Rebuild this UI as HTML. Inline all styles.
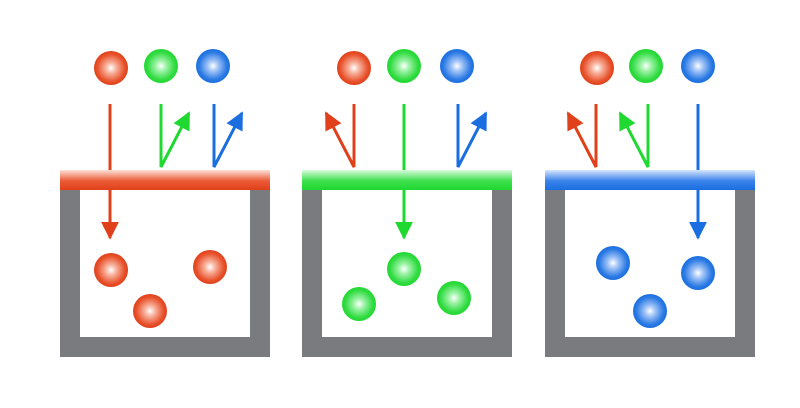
<!DOCTYPE html>
<html><head><style>html,body{margin:0;padding:0;background:#fff}svg{display:block}</style></head><body>
<svg width="800" height="408" viewBox="0 0 800 408" xmlns="http://www.w3.org/2000/svg">
<defs>
<radialGradient id="r" cx="0.5" cy="0.5" r="0.5"><stop offset="0" stop-color="#fff"/><stop offset="0.3" stop-color="#f8b4a0"/><stop offset="0.8" stop-color="#e8532d"/><stop offset="1" stop-color="#e0401a"/></radialGradient>
<radialGradient id="g" cx="0.5" cy="0.5" r="0.5"><stop offset="0" stop-color="#fff"/><stop offset="0.3" stop-color="#a0f4aa"/><stop offset="0.8" stop-color="#34dc44"/><stop offset="1" stop-color="#1fd830"/></radialGradient>
<radialGradient id="b" cx="0.5" cy="0.5" r="0.5"><stop offset="0" stop-color="#fff"/><stop offset="0.3" stop-color="#a3c5f7"/><stop offset="0.8" stop-color="#2d7be4"/><stop offset="1" stop-color="#1a6ee0"/></radialGradient>
<linearGradient id="fr" x1="0" y1="0" x2="0" y2="1"><stop offset="0" stop-color="#fde0d6"/><stop offset="0.55" stop-color="#ec5a36"/><stop offset="1" stop-color="#e0401a"/></linearGradient>
<linearGradient id="fg" x1="0" y1="0" x2="0" y2="1"><stop offset="0" stop-color="#d8fbdc"/><stop offset="0.55" stop-color="#3de04d"/><stop offset="1" stop-color="#1fd830"/></linearGradient>
<linearGradient id="fb" x1="0" y1="0" x2="0" y2="1"><stop offset="0" stop-color="#d6e6fd"/><stop offset="0.55" stop-color="#3a82ea"/><stop offset="1" stop-color="#1a6ee0"/></linearGradient>
<marker id="ar" viewBox="0 0 10 10" refX="9" refY="5" markerWidth="6" markerHeight="6" orient="auto"><path d="M0,0L10,5L0,10z" fill="#e0401a"/></marker>
<marker id="ag" viewBox="0 0 10 10" refX="9" refY="5" markerWidth="6" markerHeight="6" orient="auto"><path d="M0,0L10,5L0,10z" fill="#1fd830"/></marker>
<marker id="ab" viewBox="0 0 10 10" refX="9" refY="5" markerWidth="6" markerHeight="6" orient="auto"><path d="M0,0L10,5L0,10z" fill="#1a6ee0"/></marker>
</defs>
<g fill="#7a7b7e">
<path d="M60,190H80V337H250V190H270V357H60Z"/>
<path d="M302,190H322V337H492V190H512V357H302Z"/>
<path d="M545,190H565V337H735V190H755V357H545Z"/>
</g>
<g stroke-width="3" fill="none">
<line x1="110" y1="104" x2="110" y2="238" stroke="#e0401a" marker-end="url(#ar)"/>
<polyline points="161,104 161,167 189,113" stroke="#1fd830" marker-end="url(#ag)"/>
<polyline points="214,104 214,167 242,113" stroke="#1a6ee0" marker-end="url(#ab)"/>
<polyline points="354,104 354,167 326,113" stroke="#e0401a" marker-end="url(#ar)"/>
<line x1="404" y1="104" x2="404" y2="238" stroke="#1fd830" marker-end="url(#ag)"/>
<polyline points="458,104 458,167 486,113" stroke="#1a6ee0" marker-end="url(#ab)"/>
<polyline points="596,104 596,167 568,113" stroke="#e0401a" marker-end="url(#ar)"/>
<polyline points="648,104 648,167 620,113" stroke="#1fd830" marker-end="url(#ag)"/>
<line x1="698" y1="104" x2="698" y2="238" stroke="#1a6ee0" marker-end="url(#ab)"/>
</g>
<rect x="60" y="170" width="210" height="20" fill="url(#fr)"/>
<rect x="302" y="170" width="210" height="20" fill="url(#fg)"/>
<rect x="545" y="170" width="210" height="20" fill="url(#fb)"/>
<g>
<circle cx="111" cy="68" r="17" fill="url(#r)"/><circle cx="161" cy="66" r="17" fill="url(#g)"/><circle cx="213" cy="66" r="17" fill="url(#b)"/>
<circle cx="354" cy="68" r="17" fill="url(#r)"/><circle cx="404" cy="66" r="17" fill="url(#g)"/><circle cx="457" cy="66" r="17" fill="url(#b)"/>
<circle cx="597" cy="68" r="17" fill="url(#r)"/><circle cx="646" cy="66" r="17" fill="url(#g)"/><circle cx="698" cy="66" r="17" fill="url(#b)"/>
<circle cx="111" cy="270" r="17" fill="url(#r)"/><circle cx="150" cy="311" r="17" fill="url(#r)"/><circle cx="210" cy="267" r="17" fill="url(#r)"/>
<circle cx="404" cy="269" r="17" fill="url(#g)"/><circle cx="359" cy="304" r="17" fill="url(#g)"/><circle cx="454" cy="298" r="17" fill="url(#g)"/>
<circle cx="613" cy="263" r="17" fill="url(#b)"/><circle cx="650" cy="311" r="17" fill="url(#b)"/><circle cx="698" cy="273" r="17" fill="url(#b)"/>
</g>
</svg>
</body></html>
